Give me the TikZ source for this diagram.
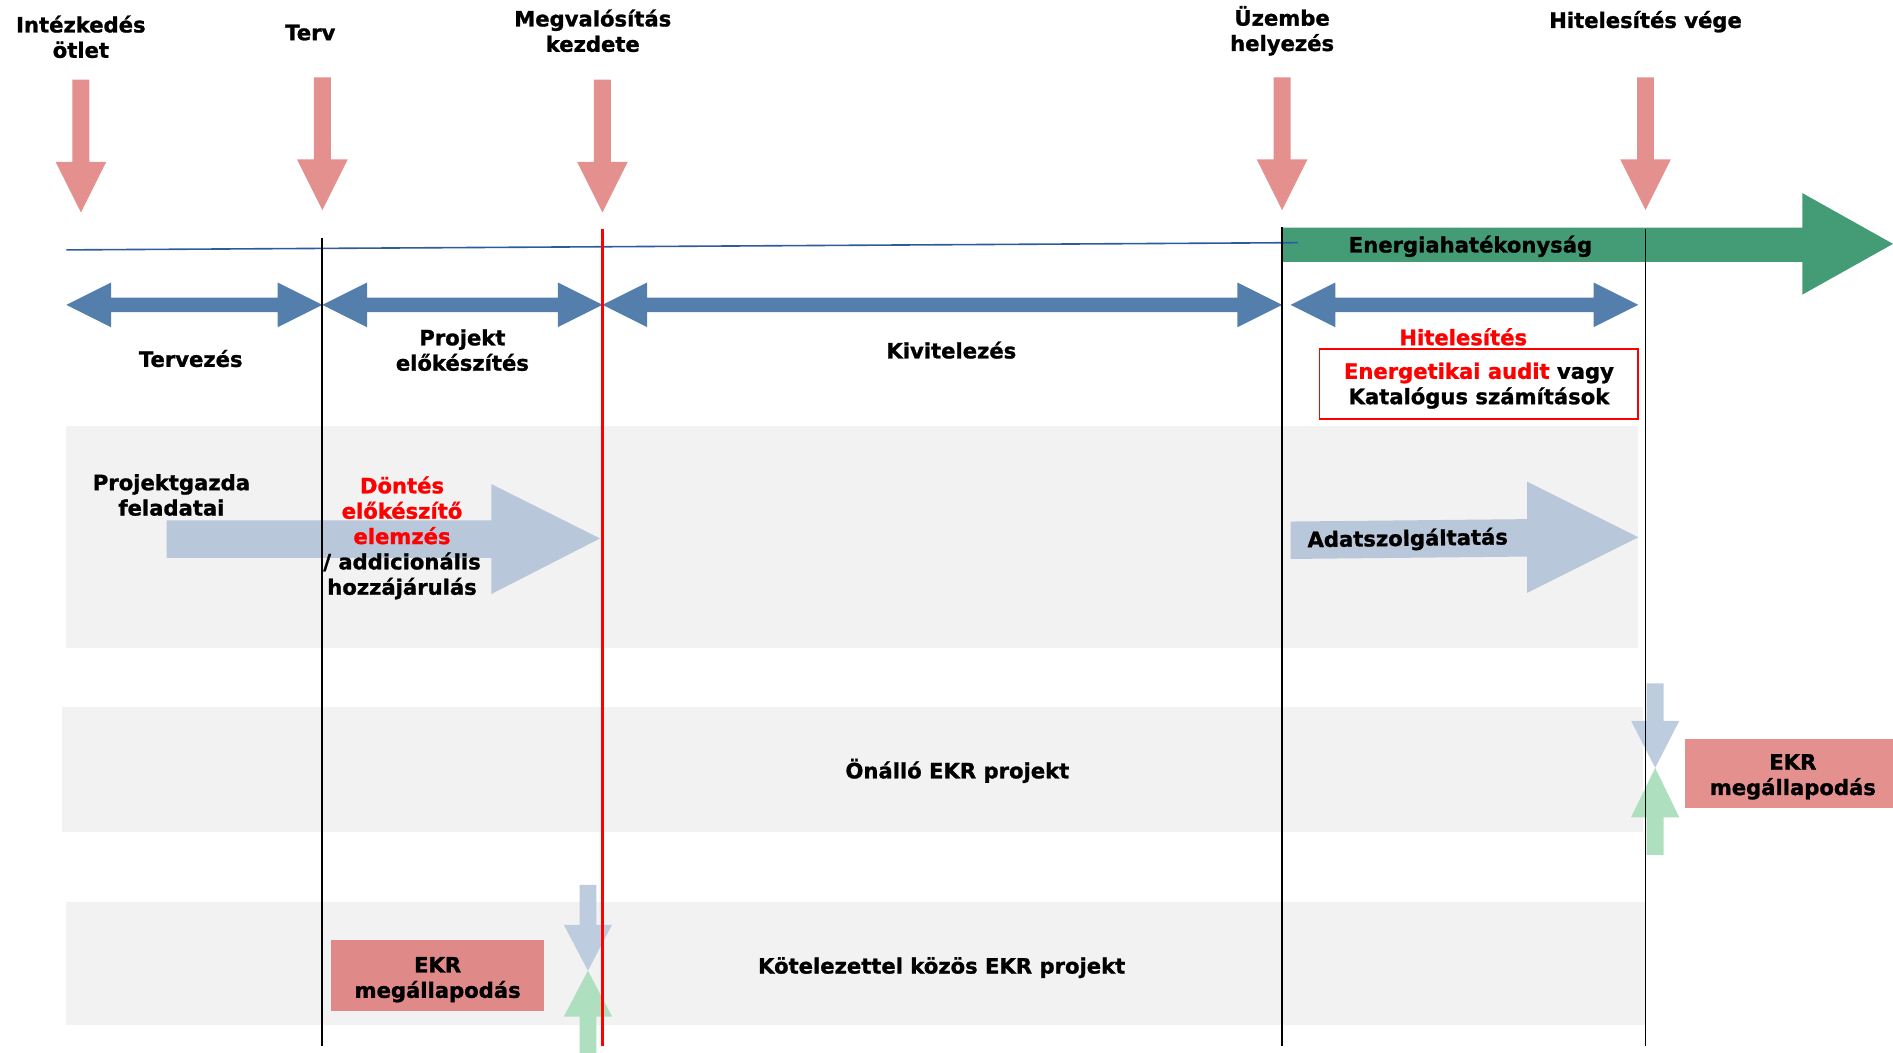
\documentclass[tikz,border=0pt]{standalone}
\usepackage{fontspec}
\setmainfont{DejaVu Sans}[BoldFeatures={FakeBold=1.2}]
\definecolor{pinkA}{HTML}{E4908E}
\definecolor{pinkB}{HTML}{DF8A88}
\definecolor{darkblue}{HTML}{547FAD}
\definecolor{greenA}{HTML}{449C76}
\definecolor{lightblue}{HTML}{B8C7D9}
\definecolor{lightblueB}{HTML}{BDCDDF}
\definecolor{lightgreen}{HTML}{AEE0BF}
\definecolor{bandgray}{HTML}{F2F2F2}
\definecolor{lineblue}{HTML}{2E5C99}
\begin{document}
\begin{tikzpicture}[x=0.6pt,y=-0.6pt,
  lbl/.style={font=\fontsize{10.5}{12.6}\selectfont\bfseries, align=center, inner sep=0pt, text=black},
  redlbl/.style={lbl, text=red},
  band/.style={fill=bandgray, draw=none},
  pinkarrow/.style={fill=pinkA, draw=none},
  dblarrow/.style={fill=darkblue, draw=none},
  ekrbox/.style={fill=pinkA, draw=none, inner sep=0pt},
  vline/.style={draw=black, line width=0.9pt},
  redline/.style={draw=red, line width=1.8pt}
]
\useasboundingbox (0,0) rectangle (1568,872);

% gray bands
\fill[band] (55,353) rectangle (1357,537);
\fill[band] (51,586) rectangle (1361,689);
\fill[band] (55,747) rectangle (1363,849);

% top labels
\node[lbl] (idea) at (67,30.5) {Intézkedés\\ötlet};
\node[lbl] (terv) at (257,27) {Terv};
\node[lbl] (megval) at (491,25.5) {Megvalósítás\\kezdete};
\node[lbl] (uzembe) at (1062,25.5) {Üzembe\\helyezés};
\node[lbl] (hitveg) at (1363,18) {Hitelesítés vége};

% pink milestone arrows
\foreach \x/\t in {67/66, 267/64, 499/66, 1062/64, 1363/64}{
  \fill[pinkarrow] ({\x-7},\t) -- ({\x+7},\t) -- ({\x+7},{\t+68}) -- ({\x+21},{\t+68})
    -- (\x,{\t+110}) -- ({\x-21},{\t+68}) -- ({\x-7},{\t+68}) -- cycle;
}

% green Energiahatekonysag arrow
\fill[greenA] (1062,188.5) -- (1493,188.5) -- (1493,160) -- (1568,202) -- (1493,244)
  -- (1493,217) -- (1062,217) -- cycle;
\node[lbl] (energia) at (1218,204) {Energiahatékonyság};

% thin blue timeline
\coordinate (tl0) at (55,207);
\coordinate (tl1) at (1075,201);
\draw[lineblue, line width=0.8pt] (tl0) -- (tl1);

% blue double arrows
\foreach \a/\b in {55/267, 267/499, 499/1062, 1069/1357}{
  \fill[dblarrow] (\a,252.5) -- ({\a+37},234) -- ({\a+37},246.5) -- ({\b-37},246.5)
    -- ({\b-37},234) -- (\b,252.5) -- ({\b-37},271) -- ({\b-37},258.5)
    -- ({\a+37},258.5) -- ({\a+37},271) -- cycle;
}

% phase labels
\node[lbl] (tervezes) at (158,297) {Tervezés};
\node[lbl] (projelo) at (383,290) {Projekt\\előkészítés};
\node[lbl] (kivit) at (788,290) {Kivitelezés};
\node[redlbl] (hitel) at (1212,279) {Hitelesítés};
\draw[red, line width=0.9pt] (1093,289) rectangle (1357,347);
\node[lbl] (audit) at (1225,319.5) {\textcolor{red}{Energetikai audit} vagy\\Katalógus számítások};

% band 1 arrows
\fill[lightblue] (138,431) -- (407,431) -- (407,401) -- (497,446) -- (407,492)
  -- (407,462) -- (138,462) -- cycle;
\fill[lightblue] (1069,432) -- (1265,430) -- (1265,399) -- (1357,445) -- (1265,491)
  -- (1265,461) -- (1069,463) -- cycle;

% band 2 small arrows
\fill[lightblueB] (1364,566) -- (1378,566) -- (1378,597) -- (1391,597) -- (1371,636)
  -- (1351,597) -- (1364,597) -- cycle;
\fill[lightgreen] (1364,708) -- (1378,708) -- (1378,677) -- (1391,677) -- (1371,636)
  -- (1351,677) -- (1364,677) -- cycle;

% band 3 small arrows
\fill[lightblueB] (480,733) -- (494,733) -- (494,766) -- (507,766) -- (487,804)
  -- (467,766) -- (480,766) -- cycle;
\fill[lightgreen] (480,872) -- (494,872) -- (494,842) -- (507,842) -- (487,804)
  -- (467,842) -- (480,842) -- cycle;

% vertical lines
\coordinate (v1t) at (267,197); \coordinate (v1b) at (267,866);
\coordinate (v2t) at (1062,188); \coordinate (v2b) at (1062,866);
\coordinate (v3t) at (1363,190); \coordinate (v3b) at (1363,866);
\coordinate (vrt) at (499,190); \coordinate (vrb) at (499,866);
\draw[vline] (v1t) -- (v1b);
\draw[vline] (v2t) -- (v2b);
\draw[vline] (v3t) -- (v3b);
\draw[redline] (vrt) -- (vrb);

% band 1 texts
\node[lbl] (pgazda) at (142,410) {Projektgazda\\feladatai};
\node[lbl] (dontes) at (333,445.5) {\textcolor{red}{Döntés}\\\textcolor{red}{előkészítő}\\\textcolor{red}{elemzés}\\/ addicionális\\hozzájárulás};
\node[lbl, rotate=0.8] (adat) at (1166,447) {Adatszolgáltatás};

% band 2
\node[lbl] (onallo) at (793,638.5) {Önálló EKR projekt};
\node[ekrbox, minimum width=103.2pt, minimum height=34.2pt] (ekr2) at (1482,640.5) {};
\node[lbl] (ekr2t) at (1485,643.5) {EKR\\megállapodás};

% band 3
\node[lbl] (kotel) at (780,801.5) {Kötelezettel közös EKR projekt};
\node[ekrbox, fill=pinkB, minimum width=106.2pt, minimum height=34.8pt] (ekr1) at (362.5,808) {};
\node[lbl] (ekr1t) at (362.5,811.5) {EKR\\megállapodás};
\end{tikzpicture}
\end{document}
